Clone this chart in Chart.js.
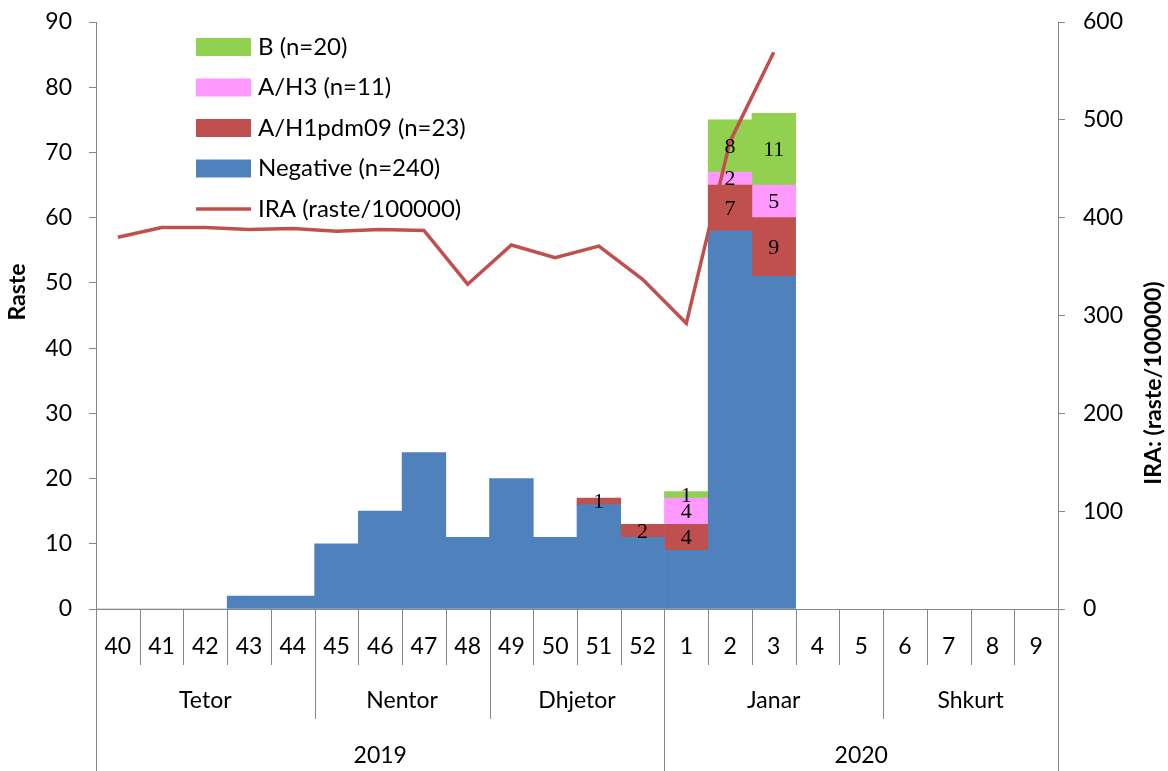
<!DOCTYPE html>
<html>
<head>
<meta charset="utf-8">
<script src="https://cdn.jsdelivr.net/npm/chart.js@4.4.1/dist/chart.umd.min.js"></script>
<style>
  html, body { margin: 0; padding: 0; background: #fff; }
</style>
</head>
<body>
<canvas id="flu-chart" width="1168" height="771"></canvas>
<script>
// week categories and the two grouping rows underneath
var weeks = ["40", "41", "42", "43", "44", "45", "46", "47", "48", "49", "50", "51", "52",
             "1", "2", "3", "4", "5", "6", "7", "8", "9"];
var monthNames = ["Tetor", "Nentor", "Dhjetor", "Janar", "Shkurt"];
var monthWeeks = [5, 4, 4, 5, 4];
var yearNames = ["2019", "2020"];
var yearWeeks = [13, 9];

// cases per week
var negative = [0, 0, 0, 2, 2, 10, 15, 24, 11, 20, 11, 16, 11, 9, 58, 51, null, null, null, null, null, null];
var h1pdm09 = [null, null, null, null, null, null, null, null, null, null, null, 1, 2, 4, 7, 9, null, null, null, null, null, null];
var h3 = [null, null, null, null, null, null, null, null, null, null, null, null, null, 4, 2, 5, null, null, null, null, null, null];
var fluB = [null, null, null, null, null, null, null, null, null, null, null, null, null, 1, 8, 11, null, null, null, null, null, null];
// IRA rate per 100000
var ira = [380, 390, 390, 388, 389, 386, 388, 387, 332, 372, 359, 371, 337, 292, 478, 569, null, null, null, null, null, null];

var FONT = "Lato";
var GREY = "#868686";
Chart.defaults.font.family = FONT;
Chart.defaults.color = "#000";

// multi level category axis: separators + month and year rows
var groupAxis = {
  id: "groupAxis",
  afterDraw: function (chart) {
    var ctx = chart.ctx;
    var x = chart.scales.x;
    var bottom = chart.chartArea.bottom;
    var band = x.getPixelForValue(1) - x.getPixelForValue(0);
    var edge = function (i) { return x.getPixelForValue(i) - band / 2; };
    ctx.save();
    ctx.strokeStyle = GREY;
    ctx.lineWidth = 1;
    var line = function (i, len) {
      var px = Math.round(edge(i)) + 0.5;
      ctx.beginPath();
      ctx.moveTo(px, bottom);
      ctx.lineTo(px, bottom + len);
      ctx.stroke();
    };
    for (var i = 1; i < weeks.length; i++) line(i, 56);
    var pos = 0;
    ctx.fillStyle = "#000";
    ctx.font = "23px " + FONT;
    ctx.textAlign = "center";
    ctx.textBaseline = "middle";
    monthNames.forEach(function (m, k) {
      var start = pos;
      pos += monthWeeks[k];
      line(pos, 110);
      ctx.fillText(m, (edge(start) + edge(pos)) / 2, bottom + 92);
    });
    pos = 0;
    line(0, 170);
    yearNames.forEach(function (y, k) {
      var start = pos;
      pos += yearWeeks[k];
      line(pos, 170);
      ctx.fillText(y, (edge(start) + edge(pos)) / 2, bottom + 147);
    });

    // axis titles
    ctx.font = "bold 23px " + FONT;
    ctx.save();
    ctx.translate(18, 292);
    ctx.rotate(-Math.PI / 2);
    ctx.fillText("Raste", 0, 0);
    ctx.restore();
    ctx.save();
    ctx.translate(1154, 383);
    ctx.rotate(-Math.PI / 2);
    ctx.fillText("IRA: (raste/100000)", 0, 0);
    ctx.restore();
    ctx.restore();
  }
};

// numbers inside the positive segments
var segmentLabels = {
  id: "segmentLabels",
  afterDatasetsDraw: function (chart) {
    var ctx = chart.ctx;
    ctx.save();
    ctx.fillStyle = "#000";
    ctx.font = "22px 'Liberation Serif'";
    ctx.textAlign = "center";
    ctx.textBaseline = "middle";
    [1, 2, 3].forEach(function (d) {
      var meta = chart.getDatasetMeta(d);
      meta.data.forEach(function (bar, i) {
        var v = chart.data.datasets[d].data[i];
        if (v == null) return;
        ctx.fillText(v, bar.x, (bar.y + bar.base) / 2 + 1);
      });
    });
    ctx.restore();
  }
};

// legend inside the plot, top left
var innerLegend = {
  id: "innerLegend",
  afterDraw: function (chart) {
    var ctx = chart.ctx;
    var order = [3, 2, 1, 0, 4];
    ctx.save();
    ctx.font = "24px " + FONT;
    ctx.textBaseline = "middle";
    ctx.textAlign = "left";
    order.forEach(function (d, k) {
      var ds = chart.data.datasets[d];
      var cy = 47 + k * 40.5;
      if (ds.type === "line") {
        ctx.strokeStyle = ds.borderColor;
        ctx.lineWidth = 3.5;
        ctx.beginPath();
        ctx.moveTo(196, cy);
        ctx.lineTo(251, cy);
        ctx.stroke();
      } else {
        ctx.fillStyle = ds.backgroundColor;
        ctx.fillRect(196, cy - 9, 55, 18);
      }
      ctx.fillStyle = "#000";
      ctx.fillText(ds.label, 258, cy);
    });
    ctx.restore();
  }
};

var barOpts = { borderWidth: 0, barPercentage: 1, categoryPercentage: 1, order: 1, yAxisID: "y" };

// vertical axes: fixed width, no extra label padding so the plot starts at y=22
function fixWidth(w) {
  return function (s) {
    s.width = w;
    s.paddingTop = 0;
    s.paddingBottom = 0;
  };
}

new Chart(document.getElementById("flu-chart"), {
  type: "bar",
  data: {
    labels: weeks,
    datasets: [
      Object.assign({ label: "Negative (n=240)", data: negative, backgroundColor: "#4F81BD" }, barOpts),
      Object.assign({ label: "A/H1pdm09 (n=23)", data: h1pdm09, backgroundColor: "#C0504D" }, barOpts),
      Object.assign({ label: "A/H3 (n=11)", data: h3, backgroundColor: "#FF99FF" }, barOpts),
      Object.assign({ label: "B (n=20)", data: fluB, backgroundColor: "#92D050" }, barOpts),
      {
        type: "line",
        label: "IRA (raste/100000)",
        data: ira,
        yAxisID: "y1",
        borderColor: "#C0504D",
        borderWidth: 3.5,
        pointRadius: 0,
        tension: 0,
        order: 0
      }
    ]
  },
  options: {
    responsive: false,
    animation: false,
    layout: { padding: { top: 22, left: 0, right: 0, bottom: 0 } },
    plugins: { legend: { display: false }, tooltip: { enabled: false } },
    scales: {
      x: {
        stacked: true,
        grid: { display: false, drawTicks: false },
        border: { display: true, color: GREY },
        ticks: { font: { size: 23 }, color: "#000", padding: 24, autoSkip: false, maxRotation: 0 },
        afterFit: function (s) { s.height = 162; s.paddingLeft = 0; s.paddingRight = 0; }
      },
      y: {
        stacked: true,
        min: 0,
        max: 90,
        ticks: { stepSize: 10, font: { size: 23 }, color: "#000", padding: 17 },
        grid: { drawOnChartArea: false, tickLength: 7, color: GREY },
        border: { color: GREY },
        afterFit: fixWidth(96)
      },
      y1: {
        position: "right",
        min: 0,
        max: 600,
        ticks: { stepSize: 100, font: { size: 23 }, color: "#000", padding: 18 },
        grid: { drawOnChartArea: false, tickLength: 7, color: GREY },
        border: { color: GREY },
        afterFit: fixWidth(110)
      }
    }
  },
  plugins: [groupAxis, segmentLabels, innerLegend]
});
</script>
</body>
</html>
